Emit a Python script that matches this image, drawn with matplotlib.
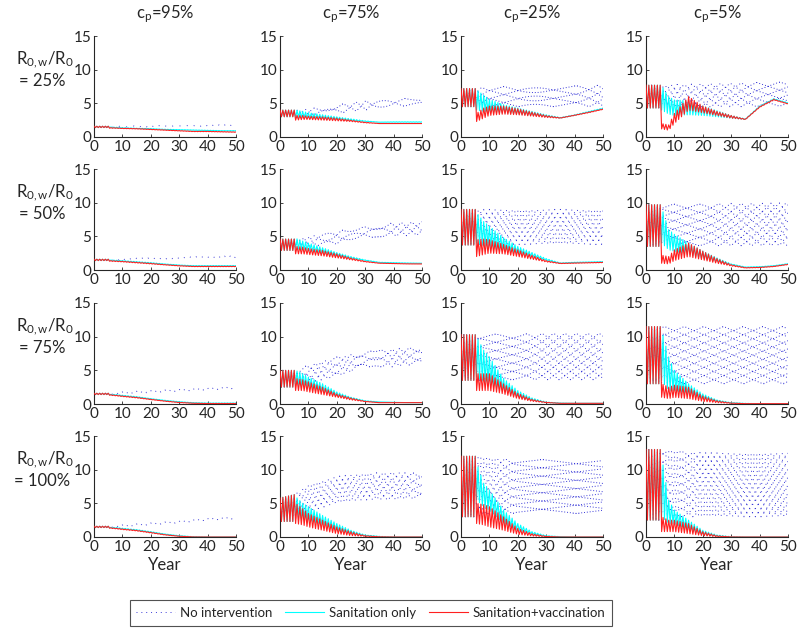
import numpy as np
import matplotlib
matplotlib.use("Agg")
import matplotlib.pyplot as plt

plt.rcParams['font.family'] = ['Lato', 'DejaVu Sans']
plt.rcParams['mathtext.fontset'] = 'custom'
plt.rcParams['mathtext.rm'] = 'Lato'
plt.rcParams['mathtext.it'] = 'Lato'

# column / row labels
cp_labels = ['95%', '75%', '25%', '5%']
ratio_labels = ['25%', '50%', '75%', '100%']

# knot years for the envelopes (peaks = hi, troughs = lo)
yrs_none = [0, 5, 10, 20, 30, 40, 50]
yrs_int = [0, 5, 5.5, 8, 10, 15, 20, 25, 30, 35, 40, 45, 50]

# No intervention, envelope per panel [row][col]
none_lo = [
    [[1.4, 1.4, 1.5, 1.5, 1.6, 1.6, 1.6], [3.0, 3.0, 3.2, 3.5, 4.0, 4.5, 4.7],
     [4.5, 4.5, 4.5, 4.5, 4.5, 4.5, 4.5], [4.3, 4.3, 4.4, 4.4, 4.5, 4.5, 4.6]],
    [[1.4, 1.4, 1.5, 1.6, 1.7, 1.8, 1.8], [3.0, 3.0, 3.5, 3.8, 4.8, 5.0, 5.2],
     [3.7, 3.7, 3.8, 3.8, 3.8, 3.8, 3.8], [3.5, 3.5, 3.6, 3.6, 3.6, 3.6, 3.6]],
    [[1.4, 1.4, 1.5, 1.7, 1.9, 2.1, 2.3], [2.5, 2.5, 3.2, 4.0, 5.5, 5.5, 6.0],
     [3.5, 3.5, 3.6, 3.6, 3.6, 3.6, 3.6], [3.0, 3.0, 3.0, 3.0, 3.0, 3.0, 3.0]],
    [[1.4, 1.4, 1.5, 1.8, 2.1, 2.5, 2.7], [2.3, 2.3, 3.8, 5.0, 5.5, 5.5, 5.8],
     [3.0, 3.0, 3.5, 3.5, 3.5, 3.5, 3.5], [2.5, 2.5, 3.0, 3.0, 3.0, 3.0, 3.0]],
]
none_hi = [
    [[1.6, 1.6, 1.6, 1.7, 1.7, 1.8, 1.8], [4.0, 4.0, 4.2, 4.8, 5.4, 5.6, 5.9],
     [7.3, 7.3, 7.5, 7.5, 7.6, 7.6, 7.7], [7.7, 7.7, 7.8, 7.9, 8.0, 8.1, 8.2]],
    [[1.6, 1.6, 1.7, 1.8, 1.9, 2.0, 2.1], [4.6, 4.6, 5.0, 5.8, 6.5, 7.0, 7.2],
     [9.0, 9.0, 9.0, 9.0, 9.0, 9.0, 9.0], [9.7, 9.7, 9.8, 9.8, 9.9, 9.9, 10.0]],
    [[1.6, 1.6, 1.8, 2.0, 2.2, 2.4, 2.6], [5.0, 5.0, 5.8, 7.0, 7.8, 8.2, 8.5],
     [10.3, 10.3, 10.4, 10.4, 10.5, 10.5, 10.5], [11.5, 11.5, 11.5, 11.5, 11.5, 11.5, 11.5]],
    [[1.6, 1.6, 1.8, 2.1, 2.4, 2.8, 3.0], [5.8, 6.3, 7.8, 9.0, 9.5, 9.6, 9.5],
     [12.0, 12.0, 11.8, 11.5, 11.5, 11.5, 11.5], [13.0, 13.0, 12.8, 12.5, 12.5, 12.5, 12.5]],
]

# Sanitation only
san_lo = [
    [[1.4, 1.4, 1.4, 1.35, 1.3, 1.25, 1.2, 1.1, 1.05, 1.0, 0.95, 0.9, 0.9],
     [3.0, 3.0, 2.9, 2.9, 2.8, 2.7, 2.6, 2.4, 2.3, 2.2, 2.2, 2.2, 2.2],
     [4.5, 4.5, 4.0, 3.8, 3.7, 3.6, 3.4, 3.2, 3.0, 2.8, 3.2, 3.7, 4.2],
     [4.3, 4.3, 4.0, 3.4, 3.2, 3.3, 3.2, 3.0, 2.8, 2.6, 4.5, 5.6, 5.0]],
    [[1.4, 1.4, 1.4, 1.35, 1.3, 1.15, 1.0, 0.85, 0.7, 0.6, 0.6, 0.6, 0.6],
     [2.9, 2.9, 3.2, 3.0, 2.9, 2.5, 2.1, 1.7, 1.4, 1.1, 1.05, 1.0, 1.0],
     [3.7, 3.7, 4.0, 3.6, 3.3, 2.9, 2.5, 2.0, 1.4, 1.0, 1.1, 1.15, 1.2],
     [3.5, 3.5, 4.0, 3.0, 2.8, 2.3, 1.7, 1.2, 0.8, 0.4, 0.45, 0.6, 0.9]],
    [[1.4, 1.4, 1.35, 1.3, 1.2, 1.0, 0.75, 0.5, 0.3, 0.15, 0.1, 0.1, 0.1],
     [2.5, 2.5, 2.8, 2.7, 2.5, 1.9, 1.2, 0.8, 0.4, 0.3, 0.25, 0.2, 0.2],
     [3.5, 3.5, 4.0, 3.3, 3.0, 2.0, 1.0, 0.5, 0.2, 0.1, 0.1, 0.1, 0.1],
     [3.0, 3.0, 3.5, 2.0, 2.0, 1.5, 0.8, 0.4, 0.15, 0.05, 0.05, 0.05, 0.05]],
    [[1.4, 1.4, 1.35, 1.3, 1.2, 1.0, 0.7, 0.4, 0.15, 0.02, 0.0, 0.0, 0.0],
     [2.3, 2.3, 3.0, 2.7, 2.5, 1.8, 1.0, 0.5, 0.2, 0.05, 0.0, 0.0, 0.0],
     [3.0, 3.0, 5.5, 4.5, 4.0, 2.0, 1.0, 0.4, 0.1, 0.05, 0.0, 0.0, 0.0],
     [2.5, 2.5, 3.0, 2.0, 2.0, 1.0, 0.3, 0.1, 0.0, 0.0, 0.0, 0.0, 0.0]],
]
san_hi = [
    [[1.6, 1.6, 1.5, 1.45, 1.4, 1.3, 1.25, 1.15, 1.1, 1.05, 1.0, 0.95, 0.95],
     [4.0, 4.0, 4.0, 3.8, 3.6, 3.3, 3.0, 2.7, 2.4, 2.2, 2.25, 2.25, 2.25],
     [7.2, 7.2, 7.0, 6.2, 5.6, 4.8, 4.3, 3.8, 3.3, 2.9, 3.3, 3.8, 4.3],
     [7.7, 7.7, 7.6, 6.0, 5.5, 5.4, 4.6, 3.9, 3.2, 2.7, 4.6, 5.7, 5.1]],
    [[1.6, 1.6, 1.5, 1.45, 1.4, 1.25, 1.1, 0.9, 0.75, 0.65, 0.65, 0.65, 0.65],
     [4.6, 4.6, 4.7, 4.3, 4.0, 3.3, 2.6, 2.0, 1.5, 1.15, 1.1, 1.05, 1.0],
     [9.0, 9.0, 8.5, 7.2, 6.5, 4.8, 3.5, 2.6, 1.7, 1.05, 1.15, 1.2, 1.25],
     [9.7, 9.7, 9.3, 6.0, 5.3, 4.0, 2.8, 1.8, 0.9, 0.45, 0.5, 0.65, 0.95]],
    [[1.6, 1.6, 1.45, 1.4, 1.3, 1.1, 0.8, 0.55, 0.35, 0.2, 0.15, 0.15, 0.15],
     [5.0, 5.0, 5.0, 4.5, 4.0, 3.0, 1.8, 1.0, 0.5, 0.3, 0.25, 0.2, 0.2],
     [10.3, 10.3, 10.0, 8.0, 7.0, 3.8, 2.0, 0.9, 0.3, 0.15, 0.1, 0.1, 0.1],
     [11.5, 11.5, 11.0, 7.0, 5.0, 3.0, 1.5, 0.6, 0.2, 0.1, 0.05, 0.05, 0.05]],
    [[1.6, 1.6, 1.45, 1.4, 1.3, 1.1, 0.8, 0.45, 0.2, 0.05, 0.0, 0.0, 0.0],
     [5.8, 6.3, 6.0, 5.0, 4.5, 3.2, 2.0, 1.0, 0.3, 0.1, 0.0, 0.0, 0.0],
     [12.0, 12.0, 11.0, 8.0, 7.0, 4.0, 2.0, 0.8, 0.2, 0.05, 0.0, 0.0, 0.0],
     [13.0, 13.0, 12.0, 5.5, 4.0, 2.5, 1.0, 0.3, 0.05, 0.0, 0.0, 0.0, 0.0]],
]

# Sanitation + vaccination
vac_lo = [
    [[1.4, 1.4, 1.3, 1.3, 1.25, 1.2, 1.1, 1.0, 0.9, 0.8, 0.8, 0.75, 0.7],
     [3.0, 3.0, 2.5, 2.6, 2.6, 2.5, 2.4, 2.3, 2.1, 2.0, 2.0, 2.0, 2.0],
     [4.5, 4.5, 2.3, 2.8, 3.2, 3.4, 3.3, 3.1, 2.9, 2.8, 3.2, 3.6, 4.1],
     [4.3, 4.3, 1.2, 1.0, 2.0, 4.0, 3.6, 3.2, 2.8, 2.6, 4.4, 5.5, 4.9]],
    [[1.4, 1.4, 1.3, 1.25, 1.2, 1.05, 0.9, 0.75, 0.6, 0.5, 0.5, 0.5, 0.5],
     [2.9, 2.9, 2.4, 2.4, 2.3, 2.1, 1.8, 1.5, 1.2, 1.0, 0.95, 0.9, 0.9],
     [3.7, 3.7, 2.0, 2.3, 2.5, 2.4, 2.0, 1.6, 1.2, 0.95, 1.0, 1.05, 1.1],
     [3.5, 3.5, 1.0, 0.9, 1.4, 2.0, 1.5, 1.0, 0.6, 0.3, 0.35, 0.5, 0.8]],
    [[1.4, 1.4, 1.3, 1.2, 1.1, 0.9, 0.65, 0.4, 0.2, 0.1, 0.05, 0.05, 0.05],
     [2.5, 2.5, 2.0, 2.0, 1.8, 1.4, 1.0, 0.6, 0.35, 0.2, 0.2, 0.2, 0.2],
     [3.5, 3.5, 2.0, 2.0, 2.0, 1.5, 0.8, 0.4, 0.2, 0.1, 0.1, 0.1, 0.1],
     [3.0, 3.0, 1.0, 0.8, 1.0, 0.8, 0.4, 0.2, 0.1, 0.05, 0.05, 0.05, 0.05]],
    [[1.4, 1.4, 1.3, 1.2, 1.1, 0.9, 0.6, 0.3, 0.1, 0.0, 0.0, 0.0, 0.0],
     [2.3, 2.3, 2.0, 1.8, 1.5, 1.0, 0.5, 0.2, 0.1, 0.0, 0.0, 0.0, 0.0],
     [3.0, 3.0, 2.0, 1.8, 1.5, 1.0, 0.4, 0.15, 0.05, 0.0, 0.0, 0.0, 0.0],
     [2.5, 2.5, 0.8, 0.8, 0.8, 0.5, 0.2, 0.05, 0.0, 0.0, 0.0, 0.0, 0.0]],
]
vac_hi = [
    [[1.6, 1.6, 1.4, 1.35, 1.3, 1.25, 1.15, 1.05, 0.95, 0.85, 0.85, 0.8, 0.75],
     [4.0, 4.0, 3.2, 3.2, 3.1, 3.0, 2.8, 2.5, 2.2, 2.0, 2.0, 2.0, 2.0],
     [7.2, 7.2, 3.5, 4.3, 4.6, 4.6, 4.2, 3.7, 3.2, 2.85, 3.25, 3.7, 4.15],
     [7.7, 7.7, 2.0, 1.8, 3.5, 6.0, 4.6, 3.8, 3.2, 2.65, 4.5, 5.6, 4.95]],
    [[1.6, 1.6, 1.4, 1.35, 1.3, 1.15, 1.0, 0.8, 0.65, 0.55, 0.55, 0.55, 0.55],
     [4.6, 4.6, 3.5, 3.4, 3.2, 2.9, 2.4, 1.8, 1.3, 1.02, 0.97, 0.92, 0.9],
     [9.0, 9.0, 4.5, 4.6, 4.5, 3.8, 3.0, 2.2, 1.4, 1.0, 1.05, 1.1, 1.15],
     [9.7, 9.7, 2.2, 2.0, 3.0, 4.0, 2.8, 1.7, 0.8, 0.35, 0.4, 0.55, 0.85]],
    [[1.6, 1.6, 1.4, 1.3, 1.2, 1.0, 0.7, 0.45, 0.25, 0.12, 0.08, 0.08, 0.08],
     [5.0, 5.0, 3.8, 3.6, 3.3, 2.5, 1.5, 0.9, 0.4, 0.2, 0.2, 0.2, 0.2],
     [10.3, 10.3, 4.5, 4.5, 4.5, 3.0, 1.6, 0.7, 0.25, 0.1, 0.1, 0.1, 0.1],
     [11.5, 11.5, 3.0, 2.5, 2.8, 2.5, 1.2, 0.5, 0.15, 0.05, 0.05, 0.05, 0.05]],
    [[1.6, 1.6, 1.4, 1.3, 1.2, 1.0, 0.7, 0.35, 0.12, 0.02, 0.0, 0.0, 0.0],
     [5.8, 6.3, 5.0, 4.2, 3.5, 2.5, 1.5, 0.8, 0.2, 0.05, 0.0, 0.0, 0.0],
     [12.0, 12.0, 5.0, 4.8, 4.5, 3.0, 1.3, 0.5, 0.1, 0.0, 0.0, 0.0, 0.0],
     [13.0, 13.0, 3.0, 2.5, 2.5, 2.0, 0.8, 0.2, 0.02, 0.0, 0.0, 0.0, 0.0]],
]


def seasonal_path(knots, lo, hi):
    """Zigzag through the read peaks (hi) and troughs (lo), one cycle per year."""
    t = np.arange(0, 50.01, 0.5)
    up = np.interp(t, knots, hi)
    dn = np.interp(t, knots, lo)
    y = np.where(np.arange(len(t)) % 2 == 0, up, dn)
    return t, y


W, H = 798, 632
lefts = [94, 280, 461, 646]
tops = [36, 169, 303, 436]
aw, ah = 142, 101
dark = '#262626'
blue = '#3a3ad8'

fig = plt.figure(figsize=(W / 100, H / 100), dpi=100)

for r in range(4):
    for c in range(4):
        ax = fig.add_axes([lefts[c] / W, 1 - (tops[r] + ah) / H, aw / W, ah / H])
        t, y = seasonal_path(yrs_none, none_lo[r][c], none_hi[r][c])
        ax.plot(t, y, color=blue, lw=0.7, ls=(0, (1.0, 7.5)), zorder=1)
        t, y = seasonal_path(yrs_int, san_lo[r][c], san_hi[r][c])
        ax.plot(t, y, color='#00ffff', lw=0.8, zorder=2)
        t, y = seasonal_path(yrs_int, vac_lo[r][c], vac_hi[r][c])
        ax.plot(t, y, color='#ff2020', lw=0.8, zorder=3)

        ax.set_xlim(0, 50)
        ax.set_ylim(0, 15)
        ax.set_xticks(range(0, 51, 10))
        ax.set_yticks([0, 5, 10, 15])
        ax.spines['top'].set_visible(False)
        ax.spines['right'].set_visible(False)
        for s in ['left', 'bottom']:
            ax.spines[s].set_color(dark)
            ax.spines[s].set_linewidth(0.8)
        ax.tick_params(direction='in', length=2.5, width=0.6, colors=dark,
                       labelsize=11, pad=2)
        if r == 3:
            ax.set_xlabel('Year', fontsize=12, color=dark, labelpad=2)

for c in range(4):
    fig.text((lefts[c] + aw / 2) / W, 1 - 14 / H, r'c$_{\rm p}$=' + cp_labels[c],
             ha='center', va='center', fontsize=12, color=dark)

for r in range(4):
    fig.text(45 / W, 1 - (tops[r] + 24) / H, r'R$_{\rm 0,w}$/R$_{\rm 0}$',
             ha='center', va='center', fontsize=12, color=dark)
    fig.text(42 / W, 1 - (tops[r] + 45) / H, '= ' + ratio_labels[r],
             ha='center', va='center', fontsize=12, color=dark)

h1, = plt.plot([], [], color=blue, lw=0.7, ls=(0, (1.0, 4.0)))
h2, = plt.plot([], [], color='#00ffff', lw=0.8)
h3, = plt.plot([], [], color='#ff2020', lw=0.8)
leg = fig.legend([h1, h2, h3], ['No intervention', 'Sanitation only', 'Sanitation+vaccination'],
                 loc='center', bbox_to_anchor=(371 / W, 1 - 613 / H), ncol=3,
                 fontsize=9.5, frameon=True, fancybox=False, handlelength=2.9,
                 columnspacing=1.0, borderpad=0.5, handletextpad=0.4)
leg.get_frame().set_edgecolor(dark)
leg.get_frame().set_linewidth(0.8)
for txt in leg.get_texts():
    txt.set_color(dark)

fig.savefig('out.png', dpi=100)
